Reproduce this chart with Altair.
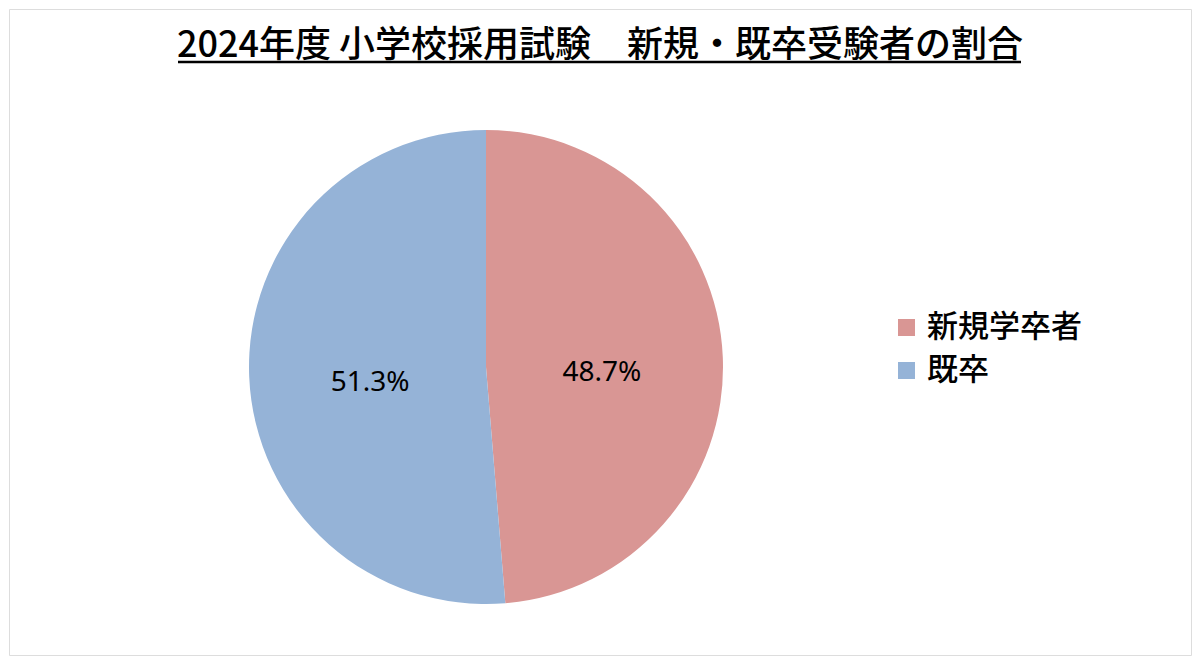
import altair as alt
import pandas as pd

categories = ["新規学卒者", "既卒"]
shares = [48.7, 51.3]
labels = ["48.7%", "51.3%"]
colors = ["#D99694", "#95B3D7"]
order = [1, 2]
title_text = "2024年度 小学校採用試験　新規・既卒受験者の割合"

df = pd.DataFrame({"category": categories, "share": shares, "label": labels, "ord": order})

W, H = 1182, 646
CX, CY, R = 477, 358, 237

base = alt.Chart(df).encode(
    theta=alt.Theta("share:Q", stack=True),
    order=alt.Order("ord:Q"),
)

pie = base.mark_arc(radius=R, stroke=None).encode(
    x=alt.value(CX),
    y=alt.value(CY),
    color=alt.Color(
        "category:N",
        scale=alt.Scale(domain=categories, range=colors),
        sort=categories,
        legend=alt.Legend(
            title=None,
            orient="none",
            legendX=882,
            legendY=303,
            symbolType="square",
            symbolSize=290,
            symbolStrokeWidth=0,
            labelFontSize=31,
            labelFont="Noto Sans CJK JP",
            labelFontWeight=500,
            labelColor="#000000",
            labelOffset=5,
            rowPadding=11,
            symbolOffset=0,
        ),
    ),
)

text = base.mark_text(radius=116, fontSize=28, font="Noto Sans", color="#000000", dy=11).encode(
    x=alt.value(CX),
    y=alt.value(CY),
    text="label:N",
)

title_df = pd.DataFrame({"t": [title_text]})
title = alt.Chart(title_df).mark_text(
    fontSize=36, font="Noto Sans CJK JP", fontWeight=500, color="#000000", baseline="alphabetic", align="center"
).encode(x=alt.value(591), y=alt.value(48), text="t:N")

underline = alt.Chart(title_df).mark_rule(color="#000000", strokeWidth=2.5).encode(
    x=alt.value(169), x2=alt.value(1012), y=alt.value(53)
)

chart = alt.layer(pie, text, title, underline).properties(
    width=W, height=H, padding=1, autosize=alt.AutoSizeParams(type="none")
).configure_view(stroke="#878787", strokeWidth=2).configure(background="#ffffff")

chart.save("out.html", embed_options={"renderer": "svg", "actions": False})
